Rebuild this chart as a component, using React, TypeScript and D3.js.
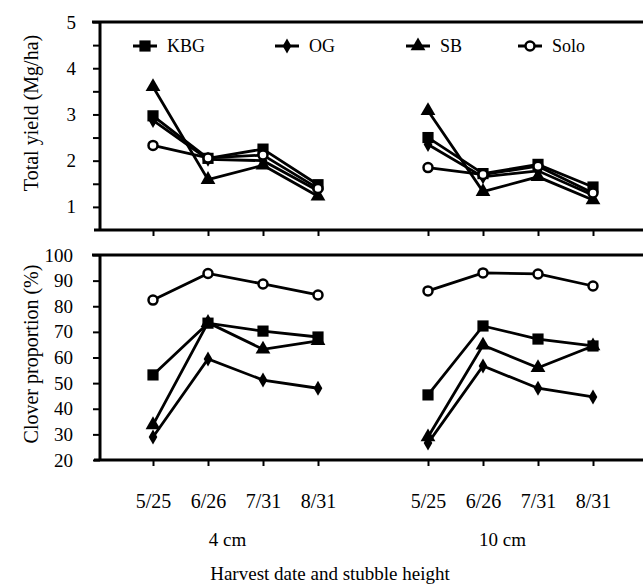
import React, { useEffect, useRef } from 'react'
import * as d3 from 'd3'

const dates = ['5/25', '6/26', '7/31', '8/31']
const heights = ['4 cm', '10 cm']
const seriesNames = ['KBG', 'OG', 'SB', 'Solo']

// values per series: 4 cm dates then 10 cm dates
const yieldKBG = [2.97, 2.05, 2.25, 1.48, 2.5, 1.72, 1.92, 1.43]
const yieldOG = [2.87, 2.03, 2.0, 1.35, 2.35, 1.65, 1.78, 1.25]
const yieldSB = [3.6, 1.59, 1.9, 1.23, 3.08, 1.33, 1.65, 1.15]
const yieldSolo = [2.33, 2.06, 2.12, 1.4, 1.85, 1.7, 1.88, 1.3]

const cloverKBG = [53.2, 73.4, 70.3, 68.0, 45.4, 72.3, 67.2, 64.5]
const cloverOG = [29, 59.4, 51.2, 48, 26.6, 56.7, 48, 44.6]
const cloverSB = [33.7, 73.6, 63.2, 66.5, 29, 64.8, 56, 64.5]
const cloverSolo = [82.4, 92.8, 88.7, 84.4, 86, 93, 92.6, 87.9]

const yieldTicks = [1, 2, 3, 4, 5]
const cloverTicks = [20, 30, 40, 50, 60, 70, 80, 90, 100]

const FONT = '"Liberation Serif", "DejaVu Serif", serif'

const App = () => {
  const ref = useRef<SVGSVGElement>(null)

  useEffect(() => {
    draw()
  })

  const draw = () => {
    const svg = d3.select(ref.current)
    svg.selectAll('*').remove()

    // slot index per point: 4 dates, a gap, 4 dates
    const slots = [0, 1, 2, 3, 5, 6, 7, 8]
    const x = d3.scaleLinear().domain([-1, 9]).range([98, 648])
    const left = 100
    const right = 660

    const yTop = d3.scaleLinear().domain([0.5, 5]).range([230, 22])
    const yBot = d3.scaleLinear().domain([20, 100]).range([460, 255])

    const symbols: Record<string, d3.SymbolType | null> = {
      KBG: d3.symbolSquare,
      OG: d3.symbolDiamond,
      SB: d3.symbolTriangle,
      Solo: null,
    }
    const symSize: Record<string, number> = { KBG: 125, OG: 65, SB: 95, Solo: 0 }

    const yieldData: Record<string, number[]> = { KBG: yieldKBG, OG: yieldOG, SB: yieldSB, Solo: yieldSolo }
    const cloverData: Record<string, number[]> = { KBG: cloverKBG, OG: cloverOG, SB: cloverSB, Solo: cloverSolo }

    const drawMarker = (g: any, name: string, cx: number, cy: number) => {
      if (name === 'Solo') {
        g.append('circle')
          .attr('cx', cx)
          .attr('cy', cy)
          .attr('r', 4.5)
          .attr('fill', '#fff')
          .attr('stroke', '#000')
          .attr('stroke-width', 2.5)
      } else {
        g.append('path')
          .attr('transform', `translate(${cx},${cy})`)
          .attr('d', d3.symbol().type(symbols[name] as d3.SymbolType).size(symSize[name])())
          .attr('fill', '#000')
      }
    }

    const panel = (y: d3.ScaleLinear<number, number>, tickVals: number[], labels: number[], data: Record<string, number[]>, showX: boolean, pad: number) => {
      const [y0, y1] = y.range()
      const g = svg.append('g')

      // frame
      g.append('line').attr('x1', left - 8).attr('x2', right).attr('y1', y1).attr('y2', y1)
        .attr('stroke', '#000').attr('stroke-width', 3)
      g.append('line').attr('x1', left - 6).attr('x2', right).attr('y1', y0).attr('y2', y0)
        .attr('stroke', '#000').attr('stroke-width', 3)
      g.append('line').attr('x1', left).attr('x2', left).attr('y1', y1).attr('y2', y0)
        .attr('stroke', '#000').attr('stroke-width', 3)

      const yAxis = g.append('g')
        .attr('transform', `translate(${left},0)`)
        .call(d3.axisLeft(y).tickValues(tickVals).tickSize(7).tickPadding(pad)
          .tickFormat((d) => (labels.includes(+d) ? String(d) : '')))
      yAxis.select('.domain').remove()
      yAxis.selectAll('line').attr('stroke-width', 2)
      yAxis.selectAll('text').attr('font-family', FONT).attr('font-size', 19).attr('fill', '#000')

      const xAxis = g.append('g')
        .attr('transform', `translate(0,${y0})`)
        .call(d3.axisBottom(x).tickValues(slots).tickSize(6).tickPadding(28)
          .tickFormat((d, i) => (showX ? dates[i % 4] : '')))
      xAxis.select('.domain').remove()
      xAxis.selectAll('line').attr('stroke-width', 2)
      xAxis.selectAll('text').attr('font-family', FONT).attr('font-size', 20).attr('fill', '#000')

      seriesNames.forEach((name) => {
        const vals = data[name]
        ;[0, 1].forEach((h) => {
          const part = vals.slice(h * 4, h * 4 + 4)
          g.append('path')
            .attr('d', d3.line<number>()
              .x((_, i) => x(slots[h * 4 + i]))
              .y((d) => y(d))(part))
            .attr('fill', 'none')
            .attr('stroke', '#000')
            .attr('stroke-width', 2.8)
        })
      })
      seriesNames.forEach((name) => {
        data[name].forEach((v, i) => drawMarker(g, name, x(slots[i]), y(v)))
      })
    }

    panel(yTop, d3.range(1, 5.01, 0.5), yieldTicks, yieldData, false, 17)
    panel(yBot, cloverTicks, cloverTicks, cloverData, true, 20)

    // legend
    const legendX = [145, 287, 418, 530]
    const legend = svg.append('g')
    seriesNames.forEach((name, i) => {
      const cx = legendX[i]
      legend.append('line')
        .attr('x1', cx - 12).attr('x2', cx + 12).attr('y1', 46).attr('y2', 46)
        .attr('stroke', '#000').attr('stroke-width', 3)
      drawMarker(legend, name, cx, 46)
      legend.append('text')
        .attr('x', cx + 22).attr('y', 52)
        .attr('font-family', FONT).attr('font-size', 18)
        .text(name)
    })

    // group labels
    heights.forEach((h, i) => {
      svg.append('text')
        .attr('x', (x(slots[i * 4]) + x(slots[i * 4 + 3])) / 2 - 8)
        .attr('y', 546)
        .attr('text-anchor', 'middle')
        .attr('font-family', FONT).attr('font-size', 19)
        .text(h)
    })

    svg.append('text')
      .attr('x', 330).attr('y', 580)
      .attr('text-anchor', 'middle')
      .attr('font-family', FONT).attr('font-size', 19)
      .text('Harvest date and stubble height')

    svg.append('text')
      .attr('transform', 'translate(38,113) rotate(-90)')
      .attr('text-anchor', 'middle')
      .attr('font-family', FONT).attr('font-size', 20)
      .text('Total yield (Mg/ha)')

    svg.append('text')
      .attr('transform', 'translate(38,354) rotate(-90)')
      .attr('text-anchor', 'middle')
      .attr('font-family', FONT).attr('font-size', 20)
      .text('Clover proportion (%)')
  }

  return (
    <svg ref={ref} width={643} height={588}
      style={{ position: 'absolute', left: 0, top: 0, background: '#fff' }} />
  )
}

export default App
